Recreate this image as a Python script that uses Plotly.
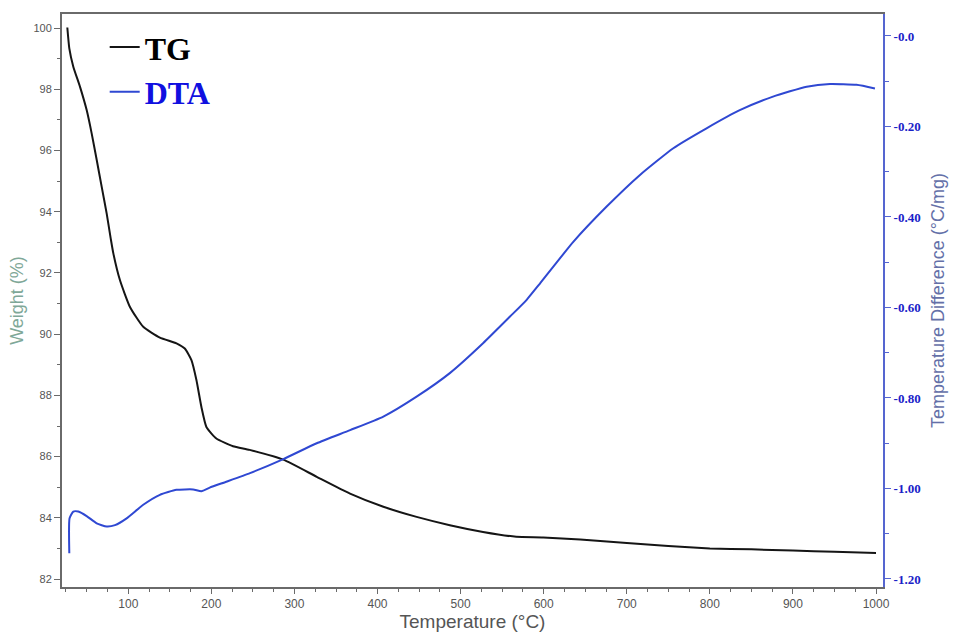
import plotly.graph_objects as go

# TG curve: temperature (°C) vs weight (%)
tg_temp = [26.6, 29, 33.8, 41.9, 49.9, 55.9, 62, 68, 74, 78.8, 82, 90, 102, 118, 138,
           158, 168, 176, 182, 188, 194, 206, 226, 246, 286.6, 326.8, 366.9, 407, 447,
           487, 527, 567, 599.5, 644, 700, 750, 800, 850, 900, 950, 1000]
tg_weight = [100.02, 99.34, 98.74, 98.08, 97.32, 96.56, 95.69, 94.81, 93.94, 93.13, 92.64,
             91.76, 90.89, 90.24, 89.89, 89.70, 89.53, 89.15, 88.50, 87.62, 86.97, 86.59,
             86.34, 86.22, 85.90, 85.34, 84.79, 84.36, 84.03, 83.76, 83.54, 83.38, 83.36,
             83.29, 83.18, 83.08, 83.00, 82.97, 82.93, 82.89, 82.85]

# DTA curve: temperature (°C) vs temperature difference (°C/mg)
dta_temp = [29, 29.3, 33.8, 39.8, 49.9, 62, 74, 84, 98, 118, 138, 158, 178, 188, 198,
            218, 246.5, 286.6, 326.8, 367, 407, 447, 487, 527, 559.5, 579.5, 595.5,
            635.6, 675.8, 715.9, 756, 796, 836, 876, 916.5, 944.6, 976.6, 998.7]
dta_diff = [-1.143, -1.066, -1.051, -1.051, -1.061, -1.077, -1.084, -1.081, -1.066,
            -1.036, -1.014, -1.003, -1.002, -1.006, -0.998, -0.985, -0.966, -0.935,
            -0.900, -0.871, -0.841, -0.797, -0.745, -0.679, -0.620, -0.583, -0.547,
            -0.455, -0.377, -0.307, -0.248, -0.204, -0.164, -0.134, -0.112, -0.106,
            -0.108, -0.116]

x_ticks = [100, 200, 300, 400, 500, 600, 700, 800, 900, 1000]
weight_ticks = [82, 84, 86, 88, 90, 92, 94, 96, 98, 100]
diff_ticks = [0.0, -0.2, -0.4, -0.6, -0.8, -1.0, -1.2]
diff_labels = ["-0.0", "-0.20", "-0.40", "-0.60", "-0.80", "-1.00", "-1.20"]

fig = go.Figure()
fig.add_trace(go.Scatter(
    x=tg_temp, y=tg_weight, mode="lines", name="<b>TG</b>",
    line=dict(color="#151515", width=2, shape="spline", smoothing=0.5),
    legendgroup="tg", yaxis="y"))
fig.add_trace(go.Scatter(
    x=dta_temp, y=dta_diff, mode="lines",
    name="<b><span style='color:#1010e0'>DTA</span></b>",
    line=dict(color="#2f48d2", width=2, shape="spline", smoothing=0.5),
    legendgroup="dta", yaxis="y2"))

fig.update_layout(
    width=956, height=632,
    margin=dict(l=62, r=73, t=14, b=45),
    paper_bgcolor="white", plot_bgcolor="white",
    showlegend=True,
    legend=dict(x=0.052, y=0.99, xanchor="left", yanchor="top",
                bgcolor="rgba(0,0,0,0)", traceorder="grouped", tracegroupgap=0,
                itemwidth=30,
                font=dict(family="Liberation Serif", size=32, color="#000000")),
    xaxis=dict(
        range=[20.2, 1008.4], tickvals=x_ticks, showgrid=False, zeroline=False,
        automargin=False,
        showline=True, linecolor="#6a6a6a", linewidth=2, mirror=True,
        ticks="outside", ticklen=5, tickcolor="#6a6a6a", tickwidth=1,
        minor=dict(dtick=25, tick0=0, ticks="outside", ticklen=3, tickcolor="#6a6a6a"),
        tickfont=dict(family="Liberation Sans", size=12, color="#555555"),
        title=dict(text="Temperature (°C)", standoff=6,
                   font=dict(family="Liberation Sans", size=19, color="#555555"))),
    yaxis=dict(
        range=[81.74, 100.46], tickvals=weight_ticks, showgrid=False, zeroline=False,
        automargin=False,
        showline=True, linecolor="#6a6a6a", linewidth=2,
        ticks="outside", ticklen=6, tickcolor="#6a6a6a", tickwidth=1,
        minor=dict(dtick=1, tick0=0, ticks="outside", ticklen=3, tickcolor="#6a6a6a"),
        tickfont=dict(family="Liberation Sans", size=11, color="#555555"),
        title=dict(text="Weight (%)", standoff=5,
                   font=dict(family="Liberation Sans", size=18, color="#7fa898"))),
    yaxis2=dict(
        overlaying="y", side="right", anchor="x", automargin=False,
        range=[-1.2177, 0.0486], tickvals=diff_ticks, ticktext=diff_labels,
        showgrid=False, zeroline=False,
        showline=True, linecolor="#5565d0", linewidth=2,
        ticks="outside", ticklen=6, tickcolor="#5565d0", tickwidth=1,
        minor=dict(dtick=0.1, tick0=0, ticks="outside", ticklen=4, tickcolor="#5565d0"),
        tickfont=dict(family="Liberation Serif", size=13, color="#1a22c8", weight="bold"),
        title=dict(text="Temperature Difference (°C/mg)", standoff=12,
                   font=dict(family="Liberation Sans", size=18, color="#6470a8"))),
)

fig.write_html("out.html")
